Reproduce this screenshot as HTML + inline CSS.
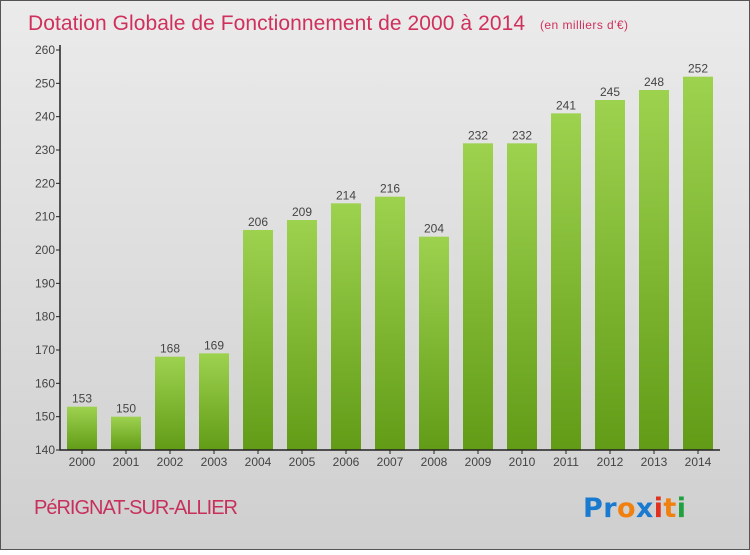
<!DOCTYPE html>
<html><head><meta charset="utf-8"><style>
body{margin:0;width:750px;height:550px;overflow:hidden;font-family:"Liberation Sans",sans-serif}
</style></head><body>
<svg id="c" width="750" height="550" xmlns="http://www.w3.org/2000/svg" font-family="'Liberation Sans',sans-serif">
<defs>
<linearGradient id="bg" x1="0" y1="0" x2="0" y2="1"><stop offset="0" stop-color="#ebebeb"/><stop offset="1" stop-color="#cfcfcf"/></linearGradient>
<linearGradient id="bar" x1="0" y1="0" x2="0" y2="1"><stop offset="0" stop-color="#9dd24f"/><stop offset="1" stop-color="#629c17"/></linearGradient>
</defs>
<rect x="0.5" y="0.5" width="749" height="549" fill="url(#bg)" stroke="#555"/>
<text x="28" y="30" font-size="21" fill="#d0305c" textLength="497">Dotation Globale de Fonctionnement de 2000 à 2014</text>
<text x="540" y="29" font-size="12" fill="#d0305c" textLength="88">(en milliers d'€)</text>
<text x="34" y="514" font-size="20" fill="#c8305c" textLength="204">PéRIGNAT-SUR-ALLIER</text>
<g font-size="27" font-weight="bold" font-family="'DejaVu Sans',sans-serif">
<text x="583" y="517" textLength="103"><tspan fill="#1a7ad0">Pr</tspan><tspan fill="#f08010">o</tspan><tspan fill="#1a7ad0">x</tspan><tspan fill="#e03020">i</tspan><tspan fill="#f08010">t</tspan><tspan fill="#20a040">i</tspan></text>
</g>
<g id="g"></g>
</svg>
<script>
const categories=["2000","2001","2002","2003","2004","2005","2006","2007","2008","2009","2010","2011","2012","2013","2014"];
const values=[153,150,168,169,206,209,214,216,204,232,232,241,245,248,252];
const yTicks=[140,150,160,170,180,190,200,210,220,230,240,250,260];
const NS="http://www.w3.org/2000/svg";
const g=document.getElementById('g');
const x0=60,x1=720,yTop=50,yBot=450,ymin=140,ymax=260;
const band=(x1-x0)/categories.length;
const y=v=>yBot-(v-ymin)/(ymax-ymin)*(yBot-yTop);
const xc=i=>x0+band*(i+0.5);
function mk(t,a){const e=document.createElementNS(NS,t);for(const k in a)e.setAttribute(k,a[k]);g.appendChild(e);return e;}
values.forEach((v,i)=>{
 const r=mk('rect',{x:xc(i)-15,y:y(v),width:30,height:yBot-y(v),fill:'url(#bar)'});
 
 
 const t=mk('text',{x:xc(i),y:y(v)-4,'text-anchor':'middle','font-size':12,fill:'#444'});
 t.textContent=v;
 
 
 const l=mk('text',{x:xc(i),y:yBot+16,'text-anchor':'middle','font-size':12,fill:'#444'});
 l.textContent=categories[i];
 
 
 const tk=mk('line',{x1:xc(i),x2:xc(i),y1:yBot,y2:yBot+4,stroke:'#222'});
 
 
});
yTicks.forEach(v=>{
 const l=mk('line',{x1:x0-4,x2:x0,y1:y(v),y2:y(v),stroke:'#222'});
 
 
 const t=mk('text',{x:x0-5,y:y(v)+4,'text-anchor':'end','font-size':12,fill:'#444'});
 t.textContent=v;
 
 
});
const ax=mk('path',{d:`M${x0} ${yTop-5}V${yBot}H${x1}`,fill:'none',stroke:'#222','stroke-width':1.5});


</script>
</body></html>
